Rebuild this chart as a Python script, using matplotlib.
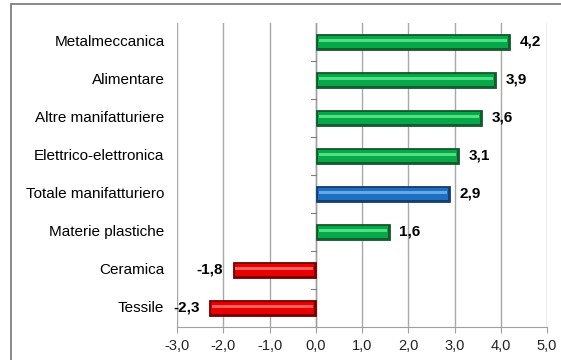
import matplotlib
matplotlib.use('Agg')
import matplotlib.pyplot as plt
from matplotlib.patches import Rectangle

plt.rcParams['font.family'] = ['Liberation Sans', 'DejaVu Sans']

categories = ['Metalmeccanica', 'Alimentare', 'Altre manifatturiere', 'Elettrico-elettronica',
              'Totale manifatturiero', 'Materie plastiche', 'Ceramica', 'Tessile']
values = [4.2, 3.9, 3.6, 3.1, 2.9, 1.6, -1.8, -2.3]
xticks = [-3, -2, -1, 0, 1, 2, 3, 4, 5]
xticklabels = ['-3,0', '-2,0', '-1,0', '0,0', '1,0', '2,0', '3,0', '4,0', '5,0']

# (dark edge, body, highlight)
palette = {
    'green': ('#135c2e', '#07a84a', '#4fe083'),
    'blue': ('#143f73', '#1f6fc0', '#62a8ea'),
    'red': ('#7a0000', '#e80000', '#ff6060'),
}

def kind(cat, v):
    if cat.startswith('Totale'):
        return 'blue'
    return 'green' if v >= 0 else 'red'

fig = plt.figure(figsize=(5.61, 3.6), dpi=100)
ax = fig.add_axes([177/561, 33/360, 370/561, 304/360])

# outer frame
fig.patches.append(Rectangle((11/561, -0.05), 1.1, 1 - 4/360 + 0.05, transform=fig.transFigure,
                             fill=False, edgecolor='#7f7f7f', lw=1.3))

ypos = list(range(len(categories)))[::-1]
h = 0.42
for y, cat, v in zip(ypos, categories, values):
    dark, body, light = palette[kind(cat, v)]
    s = 1 if v >= 0 else -1
    ax.barh(y, v, height=h, color=dark, edgecolor=dark, lw=0.6, zorder=3)
    ax.barh(y, v - s * 0.09, left=s * 0.045, height=h * 0.7, color=body, lw=0, zorder=4)
    ax.barh(y + h * 0.1, v - s * 0.12, left=s * 0.06, height=h * 0.14, color=light, lw=0, zorder=5)
    lbl = f'{v:.1f}'.replace('.', ',')
    ax.annotate(lbl, (v, y), xytext=(7 * s, 0), textcoords='offset points',
                ha='left' if s > 0 else 'right', va='center', fontsize=11,
                fontweight='bold', color='#000000')

ax.set_xlim(-3, 5)
ax.set_ylim(-0.5, len(categories) - 0.5)
ax.set_xticks(xticks)
ax.set_xticklabels(xticklabels, fontsize=10.5, color='#222222')
ax.set_yticks([])
for x in xticks:
    ax.axvline(x, color='#a8a8a8', lw=1, zorder=1)

for sp in ['top', 'right', 'left']:
    ax.spines[sp].set_visible(False)
ax.spines['bottom'].set_color('#a0a0a0')
ax.tick_params(axis='x', length=4, color='#a0a0a0', pad=5)

# category axis at zero with boundary ticks
ax.axvline(0, color='#a0a0a0', lw=1, zorder=2)
for b in range(len(categories)):
    ax.plot([-0.1, 0], [b - 0.5, b - 0.5], color='#808080', lw=0.8, zorder=2)
for y, cat in zip(ypos, categories):
    ax.annotate(cat, (-3, y), xytext=(-9, 0), textcoords='offset points',
                ha='right', va='center', fontsize=11, annotation_clip=False)

fig.savefig('out.png', dpi=100)
